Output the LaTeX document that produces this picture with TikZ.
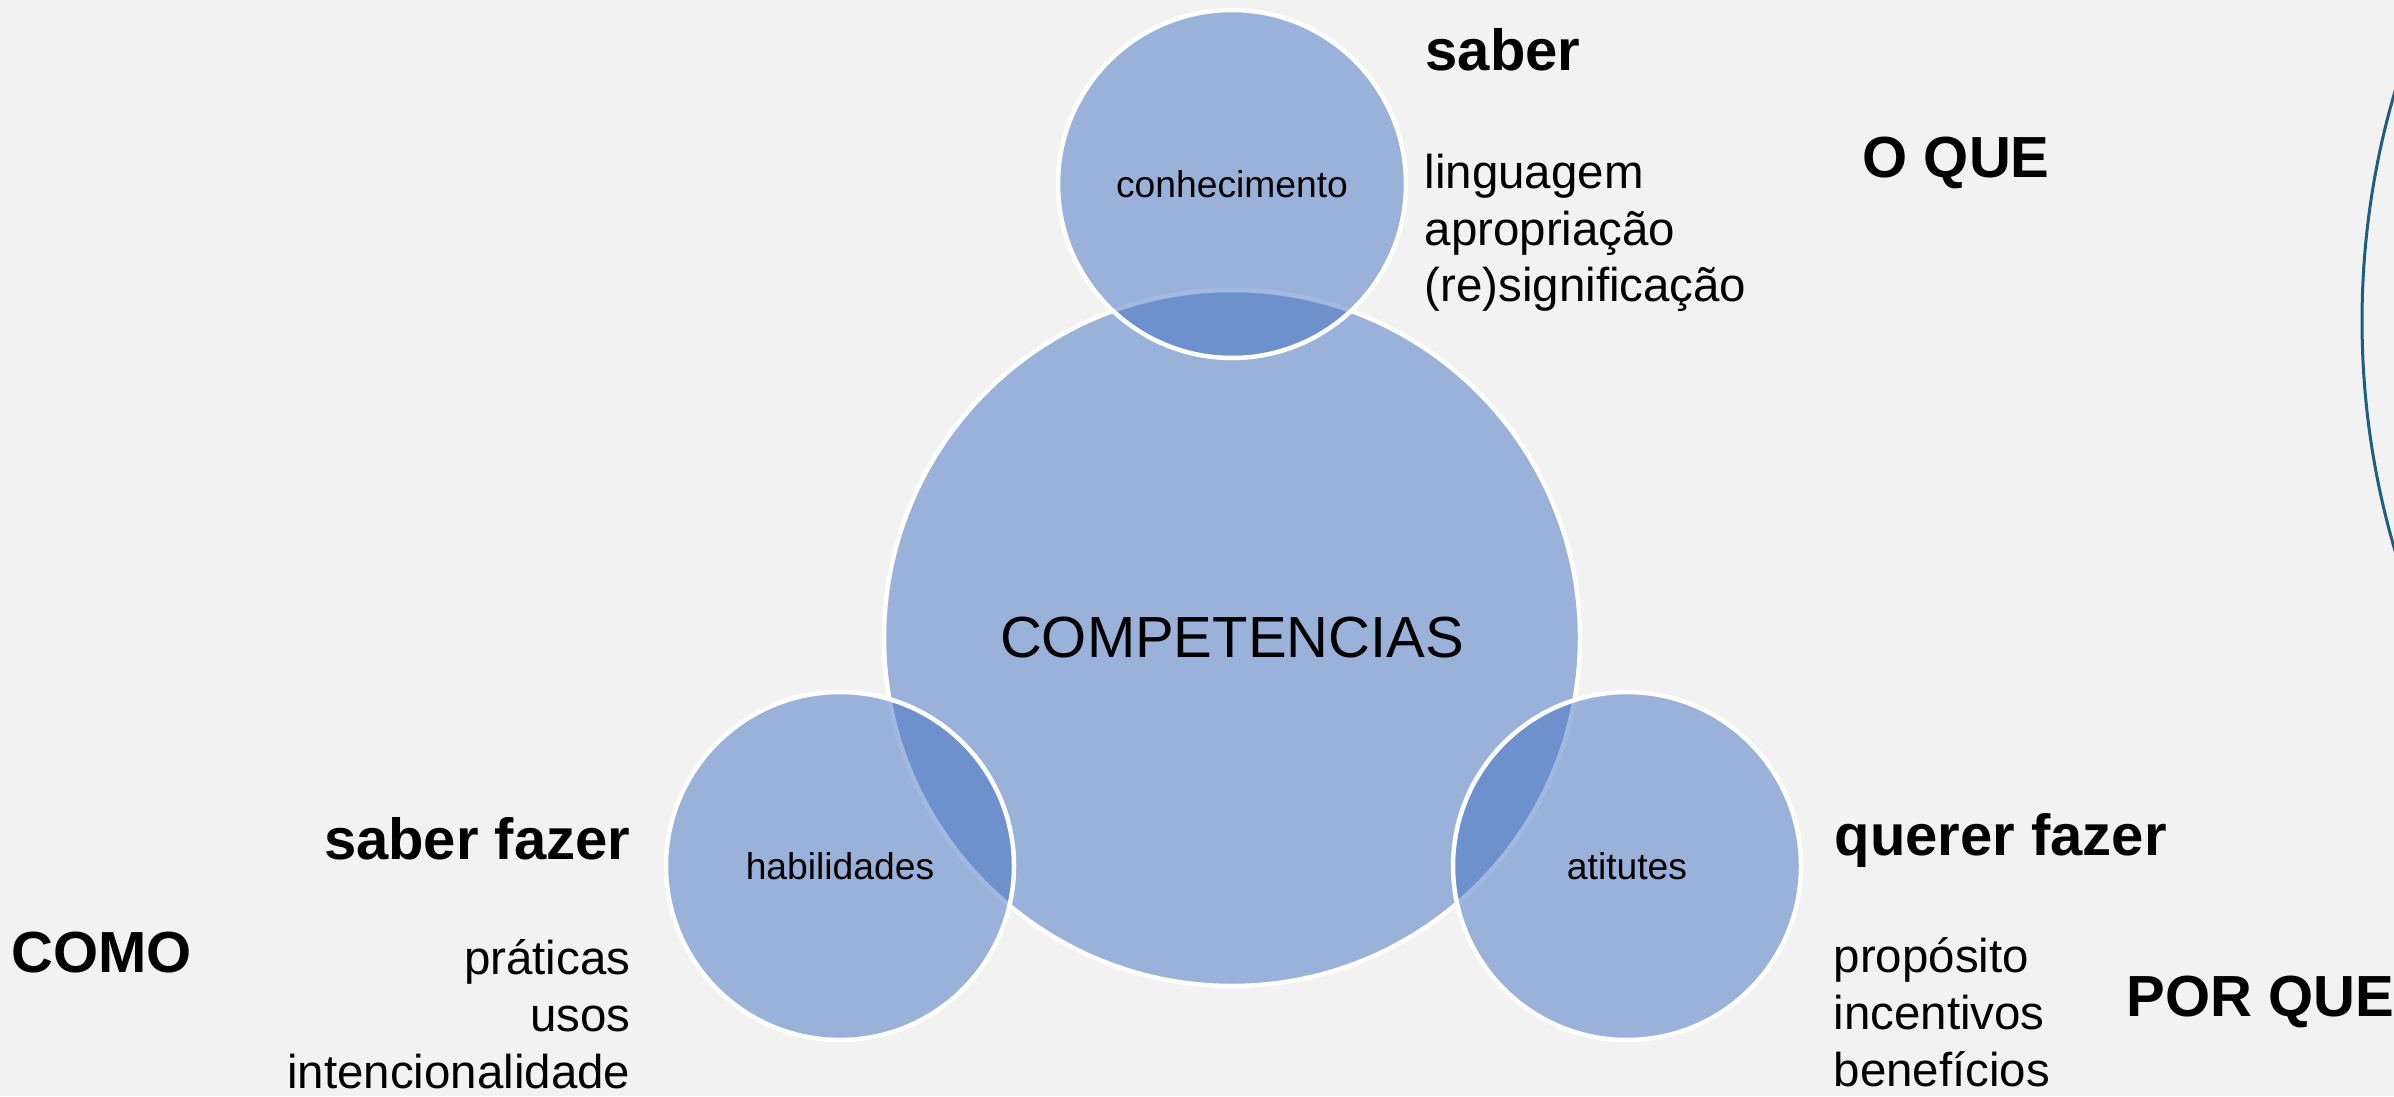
\documentclass[tikz,border=0pt]{standalone}
\usepackage{fontspec}
\setmainfont{Liberation Sans}
\usetikzlibrary{positioning}

\definecolor{paper}{RGB}{242,242,242}
\definecolor{accentblue}{RGB}{68,114,196}
\definecolor{rimblue}{RGB}{31,94,130}

\begin{document}
\begin{tikzpicture}[x=0.1mm, y=-0.1mm,
                    disc/.style={circle, draw=white, line width=0.45mm, fill=accentblue, fill opacity=0.5, draw opacity=1, text opacity=1, inner sep=0pt},
                    bigdisc/.style={disc, minimum size=69.6mm, font=\fontsize{16.5}{20}\selectfont},
                    smalldisc/.style={disc, minimum size=34.8mm, font=\fontsize{10.6}{12.7}\selectfont},
                    heading/.style={inner sep=0pt, font=\fontsize{16.5}{20}\selectfont\bfseries},
                    itemlist/.style={inner sep=0pt, font=\fontsize{13.5}{16.2}\selectfont},
                ]
                %Background
                \useasboundingbox (0,0) rectangle (2394,1096);
                \fill[paper] (0,0) rectangle (2394,1096);
                \begin{scope}
                    \clip (0,0) rectangle (2394,1096);
                    \draw[rimblue, line width=0.3mm] (3173,321) circle (81.1mm);
                \end{scope}

                %Circles
                \node[bigdisc]   (comp)   at (1232,638) {COMPETENCIAS};
                \node[smalldisc] (conhec) at (1232,184) {conhecimento};
                \node[smalldisc] (habil)  at (840,866)  {habilidades};
                \node[smalldisc] (atit)   at (1627,866) {atitutes};

                %Labels
                \node[heading, anchor=base west] (saber)       at (1425,71)  {saber};
                \node[heading, anchor=base west] (oque)        at (1862,178) {O QUE};
                \node[heading, anchor=base east] (saberfazer)  at (631,859)  {saber fazer};
                \node[heading, anchor=base west] (como)        at (11,972)   {COMO};
                \node[heading, anchor=base west] (quererfazer) at (1834,855) {querer fazer};
                \node[heading, anchor=base west] (porque)      at (2126,1016) {POR QUE};

                %Lists (base = last line)
                \node[itemlist, align=left, anchor=base west]  (listsaber)  at (1424,302)  {linguagem\\apropriação\\(re)significação};
                \node[itemlist, align=right, anchor=base east] (listfazer)  at (631,1088)  {práticas\\usos\\intencionalidade};
                \node[itemlist, align=left, anchor=base west]  (listquerer) at (1833,1086) {propósito\\incentivos\\benefícios};
\end{tikzpicture}
\end{document}
